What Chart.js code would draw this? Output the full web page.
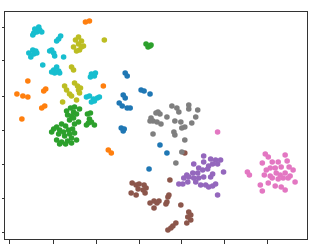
<!DOCTYPE html>
<html>
<head>
<meta charset="utf-8">
<script src="https://cdn.jsdelivr.net/npm/chart.js@4.4.0/dist/chart.umd.min.js"></script>
<style>
  html, body { margin: 0; padding: 0; background: #fff; }
</style>
</head>
<body>
<canvas id="myChart" width="336" height="244"></canvas>
<script>
// cluster points [x, y] (arbitrary embedding units)
const blue = [[124,167],[126,164],[140,150],[143,149],[149,146],[122,145],[124,142],[118,137],[121,134],[126,132],[129,132],[120,112],[122,109],[123,111],[159,95],[166,87],[148,71]];
const orange = [[84,218],[88,219],[26,159],[15,146],[21,144],[26,143],[44,151],[42,149],[40,132],[43,134],[20,121],[102,154],[107,90],[110,87]];
const green = [[65,129],[69,132],[73,133],[78,131],[72,128],[66,125],[70,124],[75,126],[68,120],[72,122],[77,118],[73,116],[60,116],[64,114],[55,113],[52,111],[58,110],[62,108],[67,110],[71,111],[50,108],[57,106],[63,104],[68,106],[73,107],[75,100],[70,102],[66,99],[60,98],[55,100],[58,96],[64,96],[70,97],[86,126],[89,127],[88,121],[87,117],[90,118],[93,115],[85,115],[145,196],[149,194],[147,193],[150,195]];
const purple = [[203,84],[210,81],[215,80],[220,80],[217,76],[212,76],[208,74],[203,78],[193,76],[198,72],[202,70],[207,71],[197,67],[192,67],[186,65],[183,62],[188,63],[193,62],[198,62],[203,63],[210,63],[212,66],[223,68],[182,56],[187,58],[195,58],[200,55],[205,55],[208,53],[212,54],[215,56],[217,45],[178,56]];
const brown = [[131,57],[135,55],[138,56],[143,55],[145,52],[142,50],[137,51],[130,47],[135,45],[144,47],[169,60],[149,37],[153,39],[156,37],[153,32],[158,39],[167,43],[168,45],[166,38],[165,36],[180,35],[188,28],[190,25],[187,23],[190,20],[186,17],[175,17],[172,14],[167,10],[170,12],[184,87]];
const pink = [[217,108],[265,86],[268,83],[285,85],[287,79],[262,77],[272,78],[278,78],[247,68],[249,65],[266,70],[270,72],[275,72],[281,73],[289,73],[293,70],[264,65],[270,64],[276,67],[280,65],[285,67],[290,64],[272,62],[278,61],[283,62],[288,62],[295,58],[260,55],[268,57],[275,54],[281,53],[285,50],[262,49]];
const gray = [[171,134],[176,132],[178,128],[188,135],[188,131],[197,130],[195,123],[191,117],[184,113],[181,112],[157,128],[159,126],[150,122],[152,119],[156,118],[160,116],[166,123],[174,119],[180,118],[173,108],[174,105],[152,106],[184,100],[181,88],[175,77],[155,127],[149,119]];
const olive = [[74,200],[77,203],[80,199],[82,194],[78,190],[75,189],[72,193],[77,196],[80,193],[103,200],[70,173],[72,170],[63,154],[65,150],[68,146],[70,144],[73,157],[76,154],[77,150],[79,152],[78,147],[61,138],[75,140]];
const cyan = [[32,207],[33,211],[37,213],[40,208],[35,208],[31,205],[38,210],[57,201],[59,204],[55,199],[27,187],[31,190],[34,189],[29,183],[32,186],[35,187],[48,189],[52,187],[53,184],[62,183],[50,190],[41,175],[52,170],[55,173],[57,169],[53,167],[58,167],[50,168],[90,166],[93,164],[89,163],[94,167],[85,143],[88,144],[92,141],[96,142],[98,143],[93,139],[90,138]];

const clusters = [blue, orange, green, purple, brown, pink, gray, olive, cyan];
const colores = ['#1f77b4', '#ff7f0e', '#2ca02c', '#9467bd', '#8c564b', '#e377c2', '#7f7f7f', '#bcbd22', '#17becf'];

const xTicks = [8, 52, 95, 138, 181, 224, 267];
const yTicks = [8, 42, 76, 110, 144, 179, 213];

const datasets = clusters.map((pts, i) => ({
  data: pts.map(p => ({ x: p[0], y: p[1] })),
  backgroundColor: colores[i],
  borderWidth: 0,
  pointRadius: 2.8,
  order: clusters.length - i,
}));

// matplotlib-like box around the axes
const frame = {
  id: 'frame',
  afterDraw(chart) {
    const { ctx, chartArea: a } = chart;
    ctx.save();
    ctx.strokeStyle = '#333';
    ctx.lineWidth = 1;
    ctx.strokeRect(a.left + 0.5, a.top + 0.5, a.right - a.left - 1, a.bottom - a.top - 1);
    ctx.restore();
  }
};

const config = {
  type: 'scatter',
  data: { datasets },
  options: {
    responsive: false,
    animation: false,
    layout: { padding: { top: 11, right: 28, left: 0, bottom: 0 } },
    plugins: { legend: { display: false }, tooltip: { enabled: false } },
    scales: {
      x: {
        min: 2, max: 308,
        afterBuildTicks: (s) => { s.ticks = xTicks.map(v => ({ value: v })); },
        ticks: { display: false },
        border: { display: false },
        grid: { drawOnChartArea: false, drawTicks: true, tickLength: 4, color: '#333' },
      },
      y: {
        min: 0, max: 229,
        afterBuildTicks: (s) => { s.ticks = yTicks.map(v => ({ value: v })); },
        ticks: { display: false },
        border: { display: false },
        grid: { drawOnChartArea: false, drawTicks: true, tickLength: 2, color: '#333' },
      },
    },
  },
  plugins: [frame],
};

const myChart = document.getElementById('myChart');
let grafico = new Chart(myChart, config);
</script>
</body>
</html>
